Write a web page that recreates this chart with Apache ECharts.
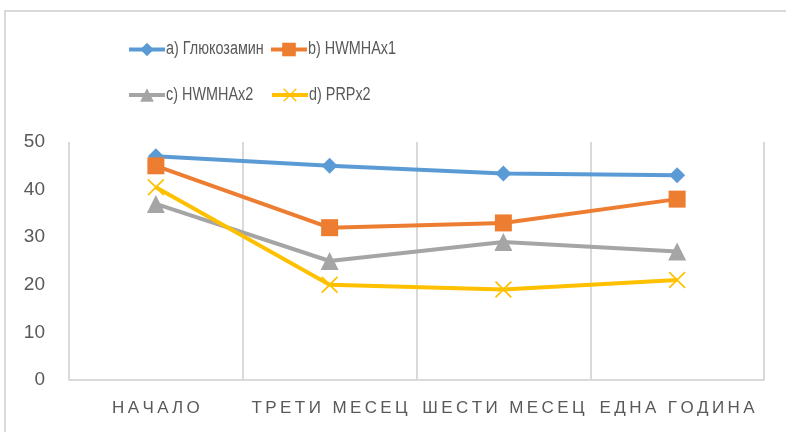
<!DOCTYPE html>
<html>
<head>
<meta charset="utf-8">
<script src="https://cdn.jsdelivr.net/npm/echarts@6/dist/echarts.min.js"></script>
<style>
  html, body { margin: 0; padding: 0; background: #fff; }
  #chart { width: 786px; height: 432px; }
</style>
</head>
<body>
<div id="chart"></div>
<script>
// Timepoints and measured values per treatment group
const categories = ['НАЧАЛО', 'ТРЕТИ МЕСЕЦ', 'ШЕСТИ МЕСЕЦ', 'ЕДНА ГОДИНА'];
const seriesNames = ['a) Глюкозамин', 'b) HWMHAx1', 'c) HWMHAx2', 'd) PRPx2'];
const glucosamine = [47, 45, 43.4, 43];
const hwmhaX1 = [45, 32, 33, 38];
const hwmhaX2 = [37, 25, 29, 27];
const prpX2 = [40.5, 20, 19, 21];
const yTicks = [0, 10, 20, 30, 40, 50];

const textColor = '#595959';
const fontFamily = '"Liberation Sans", Arial, sans-serif';
const crossPath = 'path://M0,7 L7,0 L50,43 L93,0 L100,7 L57,50 L100,93 L93,100 L50,57 L7,100 L0,93 L43,50 Z';

const legendIconHeight = 17;
// Legend slots: icon position (left, vertical centre), with a condensed caption beside it
const legendSlots = [
  { left: 127, mid: 49.5 },
  { left: 269, mid: 49.5 },
  { left: 127, mid: 95 },
  { left: 270, mid: 95 }
];

// Spread the letters of the category labels apart
function spaced(s) {
  return s.split('').join('\u2009');
}

function lineSeries(name, data, color, symbol, size) {
  return {
    name: name,
    type: 'line',
    data: data,
    symbol: symbol,
    symbolSize: size,
    showAllSymbol: true,
    lineStyle: { color: color, width: 4 },
    itemStyle: { color: color },
    z: 3
  };
}

function legendAt(name, slot) {
  return {
    data: [name],
    left: slot.left,
    top: slot.mid - legendIconHeight / 2,
    padding: 0,
    itemWidth: 36,
    itemHeight: legendIconHeight,
    itemGap: 0,
    lineStyle: { width: 4 },
    formatter: function () { return ''; },
    textStyle: { fontSize: 1, padding: 0 },
    selectedMode: false
  };
}

function legendCaption(name, slot) {
  return {
    type: 'text',
    x: slot.left + 39,
    y: slot.mid,
    scaleX: 0.8,
    silent: true,
    style: {
      text: name,
      fill: textColor,
      font: '18px ' + fontFamily,
      verticalAlign: 'middle',
      align: 'left'
    }
  };
}

const chart = echarts.init(document.getElementById('chart'), null, { renderer: 'canvas' });
chart.setOption({
  animation: false,
  backgroundColor: '#fff',
  graphic: [{
    type: 'rect',
    shape: { x: 5, y: 11, width: 800, height: 440 },
    style: { fill: 'none', stroke: '#d9d9d9', lineWidth: 2 },
    silent: true
  }].concat(seriesNames.map(function (n, i) { return legendCaption(n, legendSlots[i]); })),
  legend: seriesNames.map(function (n, i) { return legendAt(n, legendSlots[i]); }),
  grid: { left: 69, right: 22, top: 142, bottom: 52 },
  xAxis: {
    type: 'category',
    data: categories,
    boundaryGap: true,
    axisLine: { show: true, lineStyle: { color: '#d9d9d9', width: 2 } },
    axisTick: { show: false },
    splitLine: { show: true, interval: 0, lineStyle: { color: '#d9d9d9', width: 2 } },
    axisLabel: {
      interval: 0,
      color: textColor,
      fontSize: 17,
      fontFamily: fontFamily,
      margin: 20,
      formatter: spaced
    }
  },
  yAxis: {
    type: 'value',
    min: yTicks[0],
    max: yTicks[yTicks.length - 1],
    interval: 10,
    axisLine: { show: false },
    axisTick: { show: false },
    splitLine: { show: false },
    axisLabel: { color: textColor, fontSize: 19, fontFamily: fontFamily, margin: 24, padding: [3, 0, 0, 0] }
  },
  series: [
    lineSeries(seriesNames[0], glucosamine, '#5b9bd5', 'diamond', 16),
    lineSeries(seriesNames[1], hwmhaX1, '#ed7d31', 'rect', 17),
    lineSeries(seriesNames[2], hwmhaX2, '#a5a5a5', 'triangle', 18),
    lineSeries(seriesNames[3], prpX2, '#ffc000', crossPath, 17)
  ]
});
</script>
</body>
</html>
